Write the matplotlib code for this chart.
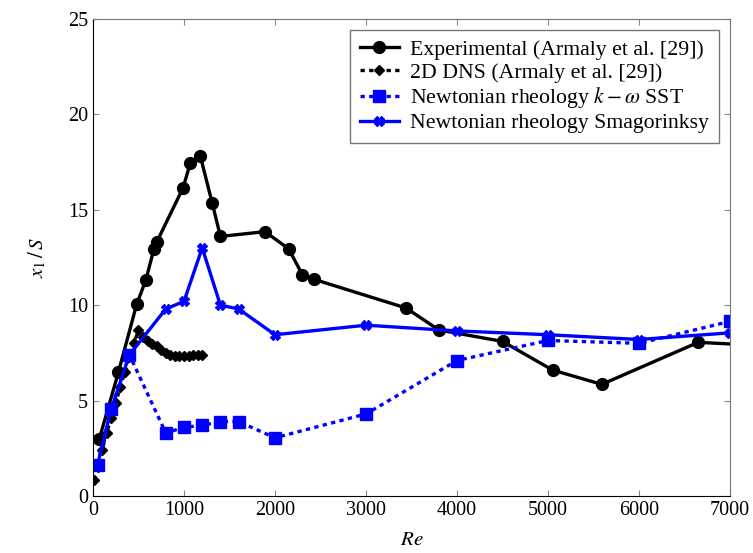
import matplotlib
matplotlib.use('Agg')
from matplotlib import pyplot as plt

# experimental data (Armaly et al.)
exp_re = [70, 280, 480, 580, 670, 700, 990, 1070, 1180, 1310, 1400, 1890, 2150, 2300, 2430, 3440, 3800, 4500, 5050, 5590, 6650, 7500]
exp_x1 = [3.0, 6.5, 10.05, 11.3, 12.95, 13.3, 16.15, 17.45, 17.8, 15.35, 13.6, 13.85, 12.95, 11.6, 11.35, 9.85, 8.7, 8.1, 6.6, 5.85, 8.05, 7.85]

# 2D DNS (Armaly et al.)
dns_re = [10, 50, 100, 150, 200, 250, 300, 350, 400, 450, 500, 550, 600, 650, 700, 750, 800, 850, 900, 950, 1000, 1050, 1100, 1150, 1200]
dns_x1 = [0.85, 1.5, 2.4, 3.3, 4.1, 4.9, 5.7, 6.5, 7.3, 8.0, 8.7, 8.35, 8.1, 7.95, 7.85, 7.65, 7.5, 7.4, 7.35, 7.35, 7.35, 7.35, 7.4, 7.4, 7.4]

# Newtonian rheology k-omega SST
sst_re = [50, 200, 400, 800, 1000, 1200, 1400, 1600, 2000, 3000, 4000, 5000, 6000, 7000]
sst_x1 = [1.65, 4.55, 7.4, 3.3, 3.6, 3.7, 3.9, 3.9, 3.05, 4.3, 7.1, 8.15, 8.0, 9.15]

# Newtonian rheology Smagorinsky
smg_re = [50, 200, 400, 800, 1000, 1200, 1400, 1600, 2000, 3000, 4000, 5000, 6000, 7000]
smg_x1 = [1.65, 4.55, 7.4, 9.8, 10.2, 13.0, 10.0, 9.8, 8.45, 8.95, 8.65, 8.45, 8.2, 8.55]

plt.rcParams['font.family'] = ['Liberation Serif', 'DejaVu Serif']
plt.rcParams['mathtext.fontset'] = 'stix'


def main():
	fig = plt.figure(figsize=(7.53, 5.53), dpi=100)
	ax = fig.add_axes([0.1235, 0.103, 0.846, 0.863])

	ax.plot(exp_re, exp_x1, color='black', lw=2.4, marker='o', ms=8.5,
		label='Experimental (Armaly et al. [29])')
	ax.plot(dns_re, dns_x1, color='black', lw=2.4, ls=(0, (1.3, 1.3)), marker='D', ms=5,
		label='2D DNS (Armaly et al. [29])')
	ax.plot(sst_re, sst_x1, color='#0000ff', lw=2.4, ls=(0, (1.3, 1.3)), marker='s', ms=9,
		label=r'Newtonian rheology $k-\omega$ SST')
	ax.plot(smg_re, smg_x1, color='#0000ff', lw=2.4, marker='X', ms=7,
		label='Newtonian rheology Smagorinksy')

	ax.set_xlim(0, 7000)
	ax.set_ylim(0, 25)
	ax.set_xticks(range(0, 7001, 1000))
	ax.set_yticks(range(0, 26, 5))
	ax.tick_params(direction='in', top=True, right=True, length=4, color='#888888', labelsize=14.5)
	for side in ['top', 'right']:
		ax.spines[side].set_color('#777777')
	ax.set_xlabel('$Re$', fontsize=15, labelpad=8)
	ax.set_ylabel('$x_1\\,/\\,S$', fontsize=15, labelpad=14)

	leg = ax.legend(loc='upper right', bbox_to_anchor=(0.982, 0.977), fontsize=15.7,
		fancybox=False, edgecolor='#777777', framealpha=1, handlelength=1.8,
		handletextpad=0.5, borderpad=0.45, labelspacing=0.12, borderaxespad=0)
	leg.get_frame().set_linewidth(1.0)

	fig.savefig('out.png', dpi=100)


if __name__ == '__main__':
	main()
